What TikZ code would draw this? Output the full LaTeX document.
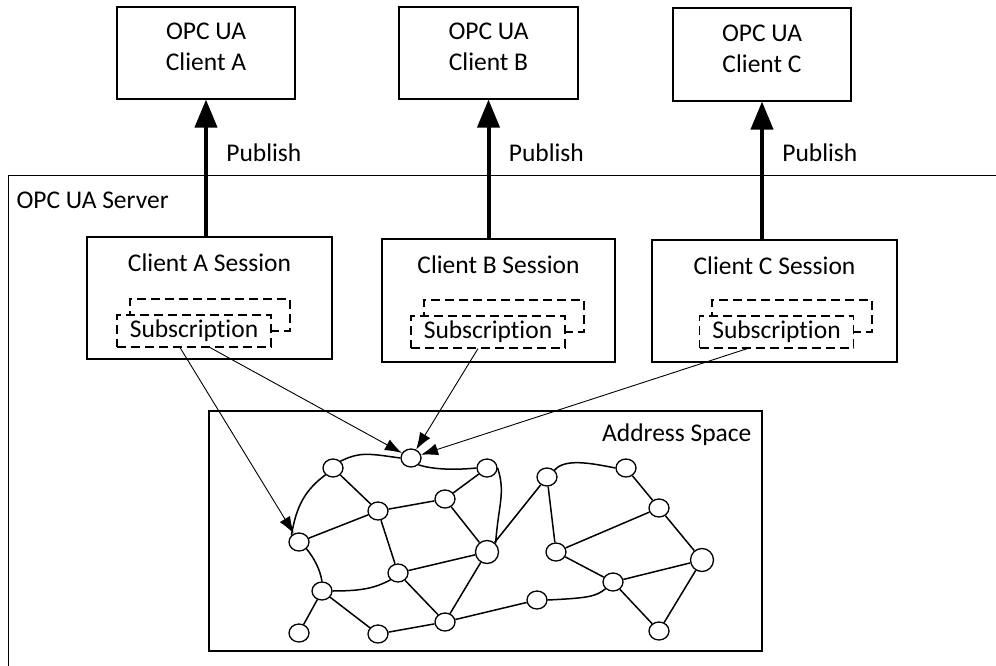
\documentclass[tikz,border=0pt]{standalone}
\usepackage{fontspec}
\setmainfont{Carlito}[Ligatures={NoCommon}]
\usetikzlibrary{arrows.meta,positioning,calc,shapes.geometric}
\tikzset{
	box/.style={draw, line width=1.1pt, align=center, inner sep=0pt},
	subbox/.style={draw, dash pattern=on 9pt off 5pt, line width=1.1pt, fill=white,
		minimum width=154pt, minimum height=32pt, inner sep=0pt},
	pubarrow/.style={-{Triangle[length=28pt,width=22pt]}, line width=4pt},
	arrow/.style={-{Latex[length=17pt,width=12pt]}, line width=0.9pt},
	gnode/.style={draw, ellipse, line width=1.3pt, fill=white,
		minimum width=20pt, minimum height=18pt, inner sep=0pt},
	bignode/.style={gnode, minimum width=23pt, minimum height=23pt},
	gedge/.style={line width=1.5pt}
}
\begin{document}
\begin{tikzpicture}[x=1pt, y=-1pt, font=\fontsize{25.5}{31}\selectfont]
	\useasboundingbox (0,0) rectangle (996,666);
	\clip (0,0) rectangle (996,666);
	
	%% -- Clients
	\node[box, minimum width=178pt, minimum height=92pt] (cliA) at (206,53) {};
	\node[box, minimum width=179pt, minimum height=92pt] (cliB) at (488.5,53) {};
	\node[box, minimum width=178pt, minimum height=93pt] (cliC) at (762,54.5) {};
	\node[align=center] (cliAt) at ([yshift=6pt] cliA.center) {OPC UA\\Client A};
	\node[align=center] (cliBt) at ([yshift=6pt] cliB.center) {OPC UA\\Client B};
	\node[align=center] (cliCt) at ([yshift=6pt] cliC.center) {OPC UA\\Client C};
	
	%% -- Server frame (runs off the page)
	\node[box, anchor=north west, minimum width=1000pt, minimum height=520pt] (srv) at (8,175) {};
	\node[anchor=west] (srvlbl) at (13,200) {OPC UA Server};
	
	%% -- Sessions
	\node[box, minimum width=245pt, minimum height=122pt] (sessA) at (209.5,298) {};
	\node[box, minimum width=233pt, minimum height=123pt] (sessB) at (498.5,300.5) {};
	\node[box, minimum width=245pt, minimum height=122pt] (sessC) at (774.5,301) {};
	\node at ([yshift=-26pt] sessA.north) (sessAt) {Client A Session};
	\node at ([yshift=-26pt] sessB.north) (sessBt) {Client B Session};
	\node at ([yshift=-26pt] sessC.north) (sessCt) {Client C Session};
	
	%% -- Subscriptions (one stacked behind the other)
	\node[subbox, minimum width=160pt] (subAb) at (210,315) {};
	\node[subbox] (subA) at (194,331) {Subscription};
	\node[subbox, minimum width=160pt] (subBb) at (504,316) {};
	\node[subbox] (subB) at (488,332) {Subscription};
	\node[subbox, minimum width=160pt] (subCb) at (792,316) {};
	\node[subbox] (subC) at (776.5,332) {Subscription};
	
	%% -- Publish arrows
	\draw[pubarrow] (sessA.north -| cliA.south) -- (cliA.south)
	node[pos=0.61, anchor=west, xshift=15pt] (pubA) {Publish};
	\draw[pubarrow] (sessB.north -| cliB.south) -- (cliB.south)
	node[pos=0.615, anchor=west, xshift=15pt] (pubB) {Publish};
	\draw[pubarrow] (sessC.north -| cliC.south) -- (cliC.south)
	node[pos=0.63, anchor=west, xshift=15pt] (pubC) {Publish};
	
	%% -- Address space
	\node[box, minimum width=553pt, minimum height=240pt] (addr) at (485.5,531) {};
	\node[anchor=east] (addrlbl) at (755,435) {Address Space};
	
	%% -- Graph nodes
	\node[gnode] (v1) at (411,458) {};
	\node[gnode] (v2) at (333,468) {};
	\node[gnode] (v3) at (487,468) {};
	\node[gnode] (v4) at (445,499) {};
	\node[gnode] (v5) at (378,511) {};
	\node[gnode] (v6) at (299,542) {};
	\node[bignode] (v7) at (487,552) {};
	\node[gnode] (v8) at (398,573) {};
	\node[gnode] (v9) at (322,591) {};
	\node[gnode] (v10) at (445,622) {};
	\node[gnode] (v11) at (299,633) {};
	\node[gnode] (v12) at (378,634) {};
	\node[gnode] (v13) at (547,477) {};
	\node[gnode] (v14) at (626,468) {};
	\node[gnode] (v15) at (659,508) {};
	\node[gnode] (v16) at (556,552) {};
	\node[bignode] (v17) at (702,560) {};
	\node[gnode] (v18) at (613,582) {};
	\node[gnode] (v19) at (537,600) {};
	\node[gnode] (v20) at (659,631) {};
	
	%% -- curved edges
	\draw[gedge] (v2.north east) .. controls +(20,-10) and +(-30,-4) .. (v1.west);
	\draw[gedge] (v1.south east) .. controls +(15,5) and +(-20,2) .. (v3.west);
	\draw[gedge] (v2.south west) .. controls +(-20,15) and +(5,-30) .. (v6.north west);
	\draw[gedge] (v3.east) .. controls +(8,25) and +(3,-40) .. (v7.north east);
	\draw[gedge] (v6.south east) .. controls +(8,10) and +(-2,-12) .. (v9.north);
	\draw[gedge] (v9.east) .. controls +(30,0) and +(-15,8) .. (v8.south west);
	\draw[gedge] (v19.east) .. controls +(40,-2) and +(-10,8) .. (v18.south west);
	\draw[gedge] (v13.north east) .. controls +(10,-12) and +(-25,-5) .. (v14.west);
	
	%% -- straight edges
	\draw[gedge] (v2) -- (v5);
	\draw[gedge] (v6) -- (v5);
	\draw[gedge] (v5) -- (v4);
	\draw[gedge] (v4) -- (v3);
	\draw[gedge] (v4) -- (v7);
	\draw[gedge] (v5) -- (v8);
	\draw[gedge] (v8) -- (v7);
	\draw[gedge] (v9) -- (v11);
	\draw[gedge] (v9) -- (v12);
	\draw[gedge] (v8) -- (v10);
	\draw[gedge] (v7) -- (v10);
	\draw[gedge] (v12) -- (v10);
	\draw[gedge] (v10) -- (v19);
	\draw[gedge] (v7) -- (v13);
	\draw[gedge] (v13) -- (v16);
	\draw[gedge] (v14) -- (v15);
	\draw[gedge] (v16) -- (v15);
	\draw[gedge] (v16) -- (v18);
	\draw[gedge] (v15) -- (v17);
	\draw[gedge] (v18) -- (v17);
	\draw[gedge] (v18) -- (v20);
	\draw[gedge] (v17) -- (v20);
	
	%% -- Subscriptions monitor nodes
	\draw[arrow] ([xshift=-14pt] subA.south) -- (v6);
	\draw[arrow] ([xshift=16pt] subA.south) -- (v1);
	\draw[arrow] ([xshift=-10pt] subB.south) -- (v1);
	\draw[arrow] ([xshift=-29pt] subC.south) -- (v1);
	
\end{tikzpicture}
\end{document}
